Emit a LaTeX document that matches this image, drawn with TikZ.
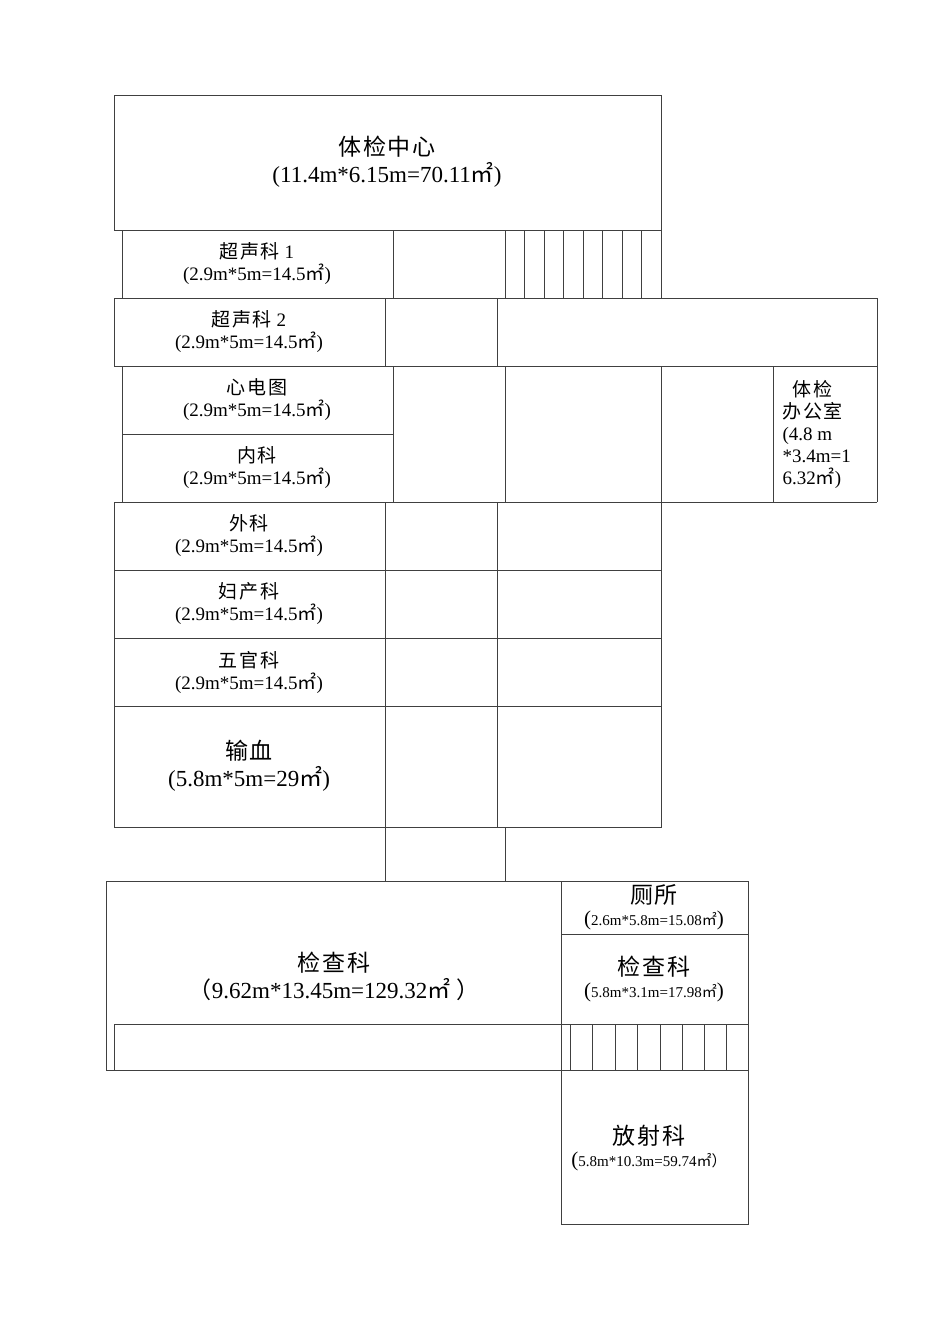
\documentclass[tikz,border=0pt]{standalone}
\usepackage{fontspec}
\setmainfont{Liberation Serif}
\newfontfamily\cjk{Noto Sans CJK SC}[Scale=1.0]
\newcommand{\cn}[1]{{\cjk\addfontfeature{LetterSpace=8}#1}}
\newcommand{\sqm}{{\cjk ㎡}}
\newcommand{\fl}{{\cjk （}}
\newcommand{\fr}{{\cjk ）}}
\begin{document}
\begin{tikzpicture}[x=1pt,y=-1pt,line width=1pt,color=black!75,
 lbl/.style={text=black,align=center,font=\fontsize{19}{22}\selectfont,inner sep=0},
 big/.style={text=black,align=center,font=\fontsize{23}{27}\selectfont,inner sep=0},
 sml/.style={text=black,align=center,font=\fontsize{15}{22}\selectfont,inner sep=0}]
\path[use as bounding box] (0,0) rectangle (950,1344);
% top
\draw (114,95) rectangle (661,230);
\node[big] (t0) at (387,162) {\cn{体检中心}\\(11.4m*6.15m=70.11\sqm)};
% row1
\draw (122,230) -- (122,298) (393,230) -- (393,298);
\foreach \x in {505,524,544,563,583,602,622,641,661} \draw (\x,230) -- (\x,298);
\node[lbl] (r1) at (257,264) {\cn{超声科} 1\\(2.9m*5m=14.5\sqm)};
% row2
\draw (114,298) rectangle (877,366);
\draw (385,298) -- (385,366) (497,298) -- (497,366);
\node[lbl] (r2) at (249,332) {\cn{超声科} 2\\(2.9m*5m=14.5\sqm)};
% row3
\draw (122,366) -- (122,502) (393,366) -- (393,502) (505,366) -- (505,502) (661,366) -- (661,502) (773,366) -- (773,502) (877,366) -- (877,502);
\draw (122,434) -- (393,434) (114,502) -- (877,502);
\node[lbl] (r3) at (257,400) {\cn{心电图}\\(2.9m*5m=14.5\sqm)};
\node[lbl] (r4) at (257,468) {\cn{内科}\\(2.9m*5m=14.5\sqm)};
\node[lbl,align=left,anchor=west] (r5) at (782,434) {\hspace*{10pt}\cn{体检}\\\cn{办公室}\\(4.8 m\\*3.4m=1\\6.32\sqm)};
% lower rows
\draw (114,502) rectangle (661,827);
\foreach \y in {570,638,706} \draw (114,\y) -- (661,\y);
\draw (385,502) -- (385,827) (497,502) -- (497,827);
\node[lbl] (a1) at (249,536) {\cn{外科}\\(2.9m*5m=14.5\sqm)};
\node[lbl] (a2) at (249,604) {\cn{妇产科}\\(2.9m*5m=14.5\sqm)};
\node[lbl] (a3) at (249,672) {\cn{五官科}\\(2.9m*5m=14.5\sqm)};
\node[big] (a4) at (249,766) {\cn{输血}\\(5.8m*5m=29\sqm)};
% corridor
\draw (385,827) -- (385,881) (505,827) -- (505,881);
% bottom
\draw (106,881) rectangle (748,1070);
\draw (561,881) -- (561,1224) -- (748,1224) -- (748,1070);
\draw (561,934) -- (748,934) (114,1024) -- (748,1024) (114,1024) -- (114,1070);
\foreach \x in {570,592,615,637,660,682,704,726} \draw (\x,1024) -- (\x,1070);
\node[big] (b1) at (334,976) {\cn{检查科}\\\fl 9.62m*13.45m=129.32\sqm\ \fr};
\node[sml] (b2) at (654,907) {{\fontsize{23}{27}\selectfont\cn{厕所}}\\{\fontsize{21}{22}\selectfont(}2.6m*5.8m=15.08\sqm{\fontsize{21}{22}\selectfont)}};
\node[sml] (b3) at (654,979) {{\fontsize{23}{27}\selectfont\cn{检查科}}\\{\fontsize{21}{22}\selectfont(}5.8m*3.1m=17.98\sqm{\fontsize{21}{22}\selectfont)}};
\node[sml] (b4) at (649,1148) {{\fontsize{23}{27}\selectfont\cn{放射科}}\\{\fontsize{21}{22}\selectfont(}5.8m*10.3m=59.74\sqm\fr};
\end{tikzpicture}
\end{document}
